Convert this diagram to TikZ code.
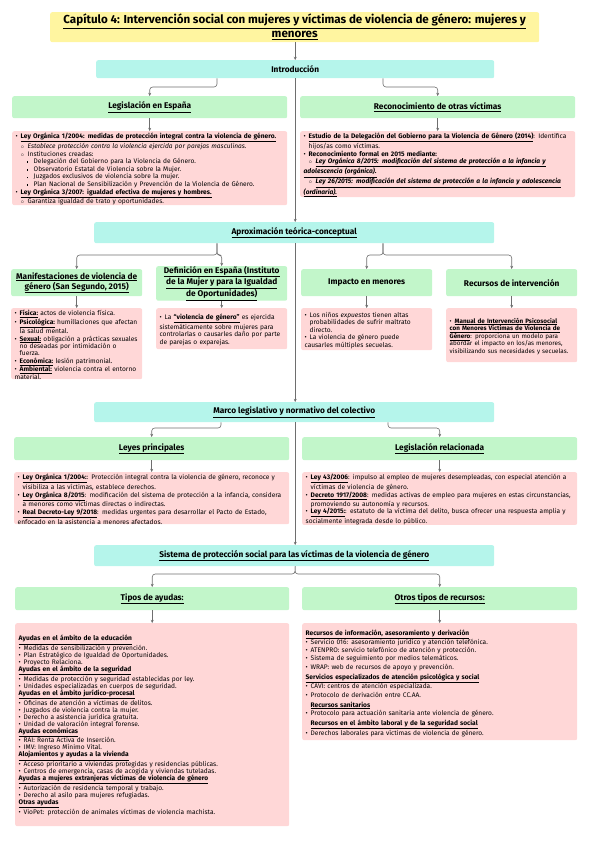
\documentclass[tikz,border=0pt]{standalone}
\usepackage{fontspec}
\setmainfont{Fira Sans}
\usetikzlibrary{arrows.meta}
\definecolor{titlebg}{RGB}{255,245,160}
\definecolor{cyanbg}{RGB}{181,245,235}
\definecolor{greenbg}{RGB}{194,246,202}
\definecolor{pinkbg}{RGB}{255,215,215}
\definecolor{linegray}{RGB}{110,110,110}
\newcommand{\itemA}[1]{\par\hangindent=5pt\hangafter=1\noindent\makebox[5pt][l]{\textbullet}#1}
\newcommand{\itemB}[1]{\par\hangindent=12pt\hangafter=1\noindent\hspace*{5pt}\makebox[7pt][l]{$\scriptscriptstyle\circ$}#1}
\newcommand{\itemC}[1]{\par\hangindent=18pt\hangafter=1\noindent\hspace*{11pt}\makebox[7pt][l]{\rule[0.7pt]{1.7pt}{1.7pt}}#1}
\newcommand{\hdr}[1]{\par\noindent\textbf{\underline{#1}}}
\newcommand{\hdrS}[1]{\par\vspace{2pt}\noindent\textbf{\underline{#1}}}
\newcommand{\hdrI}[1]{\par\vspace{2pt}\noindent\hspace*{5pt}\textbf{\underline{#1}}}
\newcommand{\ub}[1]{\textbf{\underline{#1}}}
\newcommand{\nohy}{\hyphenpenalty=10000\exhyphenpenalty=10000}
\tikzset{
  box/.style={anchor=north west, rounded corners=2pt, inner sep=0pt, align=center},
  cyanhd/.style={box, fill=cyanbg, font=\fontsize{8.3}{10}\selectfont\bfseries},
  greenhd/.style={box, fill=greenbg, font=\fontsize{8.3}{9}\selectfont\bfseries},
  pinkbody/.style={anchor=north west, rounded corners=2pt, fill=pinkbg, inner xsep=3.5pt, inner ysep=0pt, align=left, font=\fontsize{6.6}{7.6}\selectfont\nohy},
  conn/.style={draw=linegray, line width=0.6pt, rounded corners=3pt, -{Stealth[length=3.2pt,width=3pt]}}
}
\begin{document}
\begin{tikzpicture}[x=1pt,y=-1pt]
\useasboundingbox (0,0) rectangle (590,848);
% title
\node[box, fill=titlebg, minimum width=489pt, minimum height=30pt, font=\fontsize{11.6}{14}\selectfont\bfseries] (title) at (50,12)
  {\underline{Capítulo 4: Intervención social con mujeres y víctimas de violencia de género: mujeres y}\\\underline{menores}};
% intro
\node[cyanhd, minimum width=398pt, minimum height=18pt] (intro) at (96,60) {Introducción};
\node[greenhd, minimum width=275pt, minimum height=22pt] (legis) at (12,96) {\underline{Legislación en España}};
\node[greenhd, minimum width=275pt, minimum height=22pt] (recon) at (300,96) {\underline{Reconocimiento de otras víctimas}};
\node[pinkbody, text width=268pt, minimum height=73pt] (legisP) at (12,131) {%
\itemA{\ub{Ley Orgánica 1/2004: medidas de protección integral contra la violencia de género.}}
\itemB{\textit{Establece protección contra la violencia ejercida por parejas masculinas.}}
\itemB{Instituciones creadas:}
\itemC{Delegación del Gobierno para la Violencia de Género.}
\itemC{Observatorio Estatal de Violencia sobre la Mujer.}
\itemC{Juzgados exclusivos de violencia sobre la mujer.}
\itemC{Plan Nacional de Sensibilización y Prevención de la Violencia de Género.}
\itemA{\ub{Ley Orgánica 3/2007: igualdad efectiva de mujeres y hombres.}}
\itemB{Garantiza igualdad de trato y oportunidades.}};
\node[pinkbody, text width=268pt, minimum height=58pt] (reconP) at (300,131) {%
\itemA{\ub{Estudio de la Delegación del Gobierno para la Violencia de Género (2014)}: Identifica hijos/as como víctimas.}
\itemA{\textbf{Reconocimiento formal en 2015 mediante:}}
\itemB{\textbf{\textit{\underline{Ley Orgánica 8/2015: modificación del sistema de protección a la infancia y}}}\\\textbf{\textit{\underline{adolescencia (orgánica).}}}}
\itemB{\textbf{\textit{\underline{Ley 26/2015: modificación del sistema de protección a la infancia y adolescencia}}}\\\textbf{\textit{\underline{(ordinaria).}}}}};
% aproximacion
\node[cyanhd, minimum width=400pt, minimum height=21pt] (aprox) at (94,222) {\underline{Aproximación teórica-conceptual}};
\node[greenhd, minimum width=131pt, minimum height=27pt] (manif) at (11,269) {\underline{Manifestaciones de violencia de}\\\underline{género (San Segundo, 2015)}};
\node[greenhd, minimum width=131pt, minimum height=33pt] (defin) at (156,266) {\underline{Definición en España (Instituto}\\\underline{de la Mujer y para la Igualdad}\\\underline{de Oportunidades)}};
\node[greenhd, minimum width=131pt, minimum height=27pt] (impac) at (301,269) {Impacto en menores};
\node[greenhd, minimum width=131pt, minimum height=27pt] (recur) at (446,269) {Recursos de intervención};
\node[pinkbody, text width=124pt, minimum height=71pt, font=\fontsize{6.6}{7.4}\selectfont\nohy] (manifP) at (11,308) {%
\itemA{\ub{Física:} actos de violencia física.}
\itemA{\ub{Psicológica:} humillaciones que afectan la salud mental.}
\itemA{\ub{Sexual:} obligación a prácticas sexuales no deseadas por intimidación o fuerza.}
\itemA{\ub{Económica:} lesión patrimonial.}
\itemA{\ub{Ambiental:} violencia contra el entorno material.}};
\node[pinkbody, text width=124pt, minimum height=41pt] (definP) at (156,308) {%
\itemA{La \ub{``violencia de género''} es ejercida sistemáticamente sobre mujeres para controlarlas o causarles daño por parte de parejas o exparejas.}};
\node[pinkbody, text width=124pt, minimum height=42pt] (impacP) at (301,308) {%
\itemA{Los niños \textit{expuestos} tienen altas probabilidades de sufrir maltrato directo.}
\itemA{La violencia de género puede causarles múltiples secuelas.}};
\node[pinkbody, text width=124pt, minimum height=54pt, font=\fontsize{6.3}{7.6}\selectfont\nohy] (recurP) at (446,308) {%
\itemA{\ub{Manual de Intervención Psicosocial}\\\ub{con Menores Víctimas de Violencia de}\\\ub{Género}: proporciona un modelo para\\abordar el impacto en los/as menores,\\visibilizando sus necesidades y secuelas.}};
% marco
\node[cyanhd, minimum width=400pt, minimum height=20pt] (marco) at (94,402) {\underline{Marco legislativo y normativo del colectivo}};
\node[greenhd, minimum width=275pt, minimum height=23pt] (leyes) at (14,437) {\underline{Leyes principales}};
\node[greenhd, minimum width=275pt, minimum height=23pt] (legrel) at (302,437) {\underline{Legislación relacionada}};
\node[pinkbody, text width=268pt, minimum height=51pt] (leyesP) at (14,472) {%
\itemA{\ub{Ley Orgánica 1/2004:}: Protección integral contra la violencia de género, reconoce y visibiliza a las víctimas, establece derechos.}
\itemA{\ub{Ley Orgánica 8/2015}: modificación del sistema de protección a la infancia, considera a menores como víctimas directas o indirectas.}
\itemA{\ub{Real Decreto-Ley 9/2018}: medidas urgentes para desarrollar el Pacto de Estado, enfocado en la asistencia a menores afectados.}};
\node[pinkbody, text width=268pt, minimum height=51pt] (legrelP) at (302,472) {%
\itemA{\ub{Ley 43/2006}: impulso al empleo de mujeres desempleadas, con especial atención a víctimas de violencia de género.}
\itemA{\ub{Decreto 1917/2008}: medidas activas de empleo para mujeres en estas circunstancias, promoviendo su autonomía y recursos.}
\itemA{\ub{Ley 4/2015:}: estatuto de la víctima del delito, busca ofrecer una respuesta amplia y socialmente integrada desde lo público.}};
% sistema
\node[cyanhd, minimum width=400pt, minimum height=21pt] (sistema) at (94,545) {\underline{Sistema de protección social para las víctimas de la violencia de género}};
\node[greenhd, minimum width=274pt, minimum height=23pt] (tipos) at (15,587) {\underline{Tipos de ayudas:}};
\node[greenhd, minimum width=275pt, minimum height=23pt] (otros) at (302,587) {\underline{Otros tipos de recursos:}};
\node[pinkbody, text width=267pt, minimum height=203pt, font=\fontsize{6.6}{7.0}\selectfont\nohy] (tiposP) at (15,623) {%
\hdr{Ayudas en el ámbito de la educación}
\itemA{Medidas de sensibilización y prevención.}
\itemA{Plan Estratégico de Igualdad de Oportunidades.}
\itemA{Proyecto Relaciona.}
\hdr{Ayudas en el ámbito de la seguridad}
\itemA{Medidas de protección y seguridad establecidas por ley.}
\itemA{Unidades especializadas en cuerpos de seguridad.}
\hdr{Ayudas en el ámbito jurídico-procesal}
\itemA{Oficinas de atención a víctimas de delitos.}
\itemA{Juzgados de violencia contra la mujer.}
\itemA{Derecho a asistencia jurídica gratuita.}
\itemA{Unidad de valoración integral forense.}
\hdr{Ayudas económicas}
\itemA{RAI: Renta Activa de Inserción.}
\itemA{IMV: Ingreso Mínimo Vital.}
\hdr{Alojamientos y ayudas a la vivienda}
\itemA{Acceso prioritario a viviendas protegidas y residencias públicas.}
\itemA{Centros de emergencia, casas de acogida y viviendas tuteladas.}
\hdr{Ayudas a mujeres extranjeras víctimas de violencia de género}
\itemA{Autorización de residencia temporal y trabajo.}
\itemA{Derecho al asilo para mujeres refugiadas.}
\hdr{Otras ayudas}
\itemA{VioPet: protección de animales víctimas de violencia machista.}};
\node[pinkbody, text width=268pt, minimum height=117pt, font=\fontsize{6.6}{8.1}\selectfont\nohy] (otrosP) at (302,623) {%
\hdr{Recursos de información, asesoramiento y derivación}
\itemA{Servicio 016: asesoramiento jurídico y atención telefónica.}
\itemA{ATENPRO: servicio telefónico de atención y protección.}
\itemA{Sistema de seguimiento por medios telemáticos.}
\itemA{WRAP: web de recursos de apoyo y prevención.}
\hdrS{Servicios especializados de atención psicológica y social}
\itemA{CAVI: centros de atención especializada.}
\itemA{Protocolo de derivación entre CC.AA.}
\hdrI{Recursos sanitarios}
\itemA{Protocolo para actuación sanitaria ante violencia de género.}
\hdrI{Recursos en el ámbito laboral y de la seguridad social}
\itemA{Derechos laborales para víctimas de violencia de género.}};
% connectors
\draw[conn] (title.south -| intro.north) -- (intro.north);
\draw[conn] (intro.south) -- (intro.south |- aprox.north);
\draw[conn] (aprox.south -| intro.south) -- (intro.south |- marco.north);
\draw[conn] (marco.south -| intro.south) -- (intro.south |- sistema.north);
\draw[conn] (intro.south -| 217,0) -- (217,87) -| (legis.north);
\draw[conn] (intro.south -| 383,0) -- (383,87) -| (recon.north);
\draw[conn] (legis.south) -- (legisP.north -| legis.south);
\draw[conn] (recon.south) -- (reconP.north -| recon.south);
\draw[conn] (aprox.south -| 217,0) -- (217,255) -| (manif.north);
\draw[conn] (aprox.south -| 217,0) -- (217,255) -| (defin.north);
\draw[conn] (aprox.south -| 383,0) -- (383,255) -| (impac.north);
\draw[conn] (aprox.south -| 383,0) -- (383,255) -| (recur.north);
\draw[conn] (manif.south) -- (manifP.north -| manif.south);
\draw[conn] (defin.south) -- (definP.north -| defin.south);
\draw[conn] (impac.south) -- (impacP.north -| impac.south);
\draw[conn] (recur.south) -- (recurP.north -| recur.south);
\draw[conn] (marco.south -| 221,0) -- (221,428) -| (leyes.north);
\draw[conn] (marco.south -| 388,0) -- (388,428) -| (legrel.north);
\draw[conn] (leyes.south) -- (leyesP.north -| leyes.south);
\draw[conn] (legrel.south) -- (legrelP.north -| legrel.south);
\draw[conn] (sistema.south -| intro.south) -- (295,574) -| (tipos.north);
\draw[conn] (sistema.south -| intro.south) -- (295,574) -| (otros.north);
\draw[conn] (tipos.south) -- (tiposP.north -| tipos.south);
\draw[conn] (otros.south) -- (otrosP.north -| otros.south);
\end{tikzpicture}
\end{document}
